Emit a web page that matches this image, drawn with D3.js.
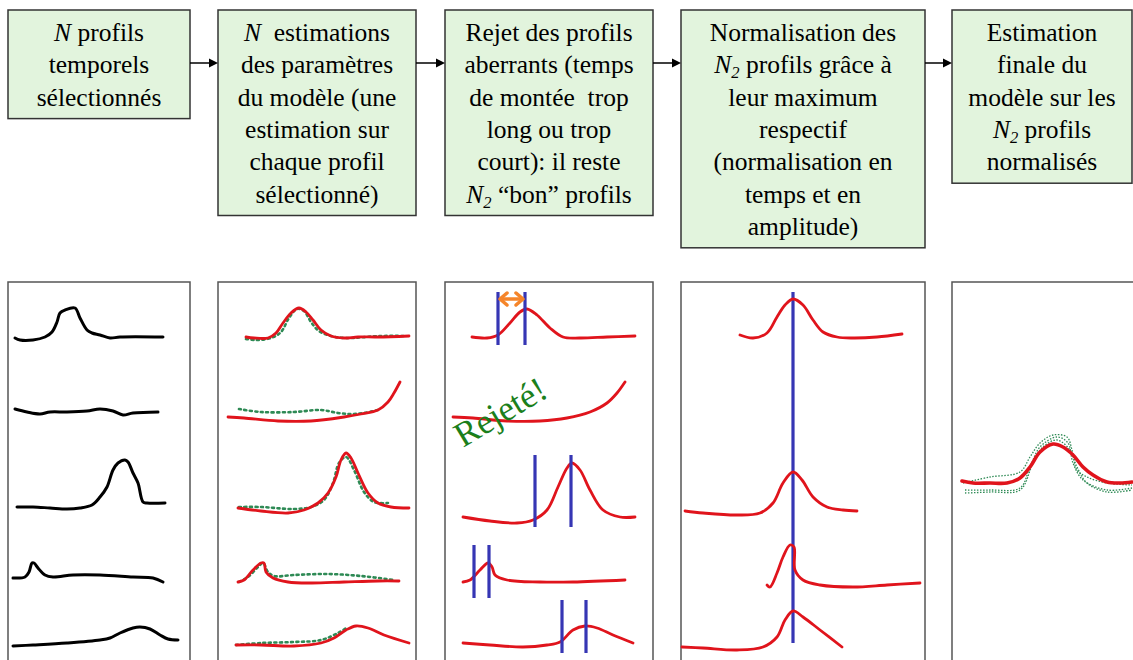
<!DOCTYPE html>
<html>
<head>
<meta charset="utf-8">
<script src="https://cdn.jsdelivr.net/npm/d3@7"></script>
</head>
<body style="margin:0;background:#fff">
<div class="canvas"></div>
<script>
// ---- data -------------------------------------------------------------
// box texts, {N} = italic N, {N2} = italic N with subscript 2
const stages = [
    ["{N} profils", "temporels", "sélectionnés"],
    ["{N}\u00a0 estimations", "des paramètres", "du modèle (une", "estimation sur", "chaque profil", "sélectionné)"],
    ["Rejet des profils", "aberrants (temps", "de montée\u00a0 trop", "long ou trop", "court): il reste", "{N2} “bon” profils"],
    ["Normalisation des", "{N2} profils grâce à", "leur maximum", "respectif", "(normalisation en", "temps et en", "amplitude)"],
    ["Estimation", "finale du", "modèle sur les", "{N2} profils", "normalisés"]
];

// profiles as [time, amplitude], one array per row
const rawProfiles = [
    [[7,0],[12,-2],[25,-2],[37,1],[44,6],[49,16],[52,25],[57,28],[67,30],[72,20],[79,8],[84,5],[92,3],[102,0],[112,1],[155,1]],
    [[7,7],[19,4],[32,2],[42,4],[59,4],[79,5],[92,7],[105,5],[115,1],[125,3],[150,4]],
    [[9,3],[25,3],[42,2],[59,1],[72,2],[84,5],[92,13],[99,23],[105,40],[110,47],[117,50],[120,48],[125,37],[130,27],[135,8],[139,7],[157,7]],
    [[5,3],[17,4],[21,9],[24,18],[26,18],[30,13],[37,6],[45,4],[65,6],[92,6],[125,4],[145,3],[155,-1]],
    [[5,0],[25,1],[59,3],[92,6],[102,8],[112,13],[125,18],[132,19],[142,17],[152,11],[160,7],[170,6]]
];

const fittedProfiles = [
    [[28,1],[36,0],[50,0],[58,5],[65,15],[73,25],[81,30],[88,26],[95,18],[103,8],[113,2],[126,0],[140,1],[160,1],[191,2]],
    [[10,-1],[26,-2],[60,-5],[93,-5],[126,-1],[143,2],[160,6],[170,14],[176,23],[182,34]],
    [[20,2],[43,-1],[70,-3],[86,0],[100,7],[110,17],[118,33],[123,50],[128,57],[133,52],[140,37],[150,17],[160,7],[173,3],[191,2]],
    [[20,-1],[26,1],[35,11],[43,18],[46,18],[48,9],[55,3],[70,-1],[93,-2],[126,-1],[160,0],[181,0]],
    [[18,1],[43,1],[76,0],[103,3],[116,8],[128,16],[138,20],[150,18],[166,11],[191,3]]
];

const measuredProfiles = [
    [[28,-1],[38,-2],[53,0],[63,6],[71,20],[79,29],[86,27],[93,16],[101,7],[113,2],[128,0],[163,2],[188,2]],
    [[21,7],[43,4],[76,4],[103,6],[120,3],[133,2],[146,3],[160,6]],
    [[21,3],[43,3],[76,1],[93,3],[106,10],[115,27],[121,47],[128,53],[136,40],[146,18],[156,8],[170,7]],
    [[21,-1],[30,4],[40,14],[45,18],[50,9],[56,5],[76,6],[110,7],[143,5],[176,1]],
    [[18,1],[43,3],[76,4],[103,6],[120,13],[130,19]]
];

const screenedProfiles = [
    [[27,1],[42,0],[53,3],[65,15],[75,26],[82,29],[92,23],[105,10],[118,1],[135,0],[162,1],[190,2]],
    [[8,-1],[28,-2],[62,-5],[95,-5],[122,-2],[145,4],[162,13],[172,23],[180,34]],
    [[18,-7],[45,-11],[72,-13],[88,-10],[102,0],[113,23],[122,42],[127,47],[135,40],[145,20],[158,0],[175,-7],[190,-7]],
    [[18,-1],[25,1],[35,11],[43,18],[47,14],[50,6],[62,1],[95,-1],[128,-1],[180,1]],
    [[18,3],[45,1],[78,-1],[102,1],[115,4],[128,16],[140,20],[152,18],[168,11],[188,3]]
];
// start of rise / time of maximum, null = rejected profile
const riseTimes = [[53,80], null, [90,126], [29,44], [117,141]];
const rejectedRow = 1;

const normalisedProfiles = [
    [[59,3],[72,0],[86,5],[96,21],[104,33],[112,39],[122,33],[132,18],[142,6],[156,1],[172,0],[196,1],[221,4]],
    null,
    [[4,-1],[22,-3],[56,-5],[79,-3],[92,7],[102,27],[112,38],[121,30],[132,13],[146,3],[162,0],[176,-1]],
    [[86,-4],[89,-6],[96,8],[102,24],[109,36],[113,34],[114,11],[122,1],[139,-4],[172,-6],[206,-4],[239,-2]],
    [[1,-1],[22,-2],[56,-4],[82,-1],[96,9],[104,26],[112,35],[122,29],[139,16],[161,-1]]
];
const commonMax = 112;

const finalModel = [[10,2],[21,0],[38,0],[55,0],[68,5],[78,16],[88,31],[101,39],[111,36],[121,28],[131,16],[141,8],[155,1],[168,0],[180,1]];
const finalData = [
    [[11,0],[38,6],[68,11],[78,26],[88,40],[101,48],[115,46],[120,33],[125,13],[135,6],[155,0],[180,-2]],
    [[13,-7],[38,-7],[68,-5],[78,16],[88,36],[105,46],[116,40],[121,20],[131,3],[155,-7],[180,-5]],
    [[13,-10],[38,-9],[68,-7],[81,20],[91,36],[105,43],[118,33],[125,16],[135,0],[155,-9],[180,-7]]
];

// ---- layout -----------------------------------------------------------
const colX = [[8, 190], [218, 416], [445, 653], [681, 925], [952, 1132]];
const boxTop = 10, lineGap = 32.3, fontSize = 25.5, arrowY = 63;
const FONT = 'Liberation Serif';
const panelTop = 282;
const rowBase = [338, 416, 510, 581, 646];
const finalBase = 483;
const riseSpan = [[46, -7], null, [55, -17], [36, -17], [46, -7]];

const RED = '#e0141c', GREEN = '#2e8a55', BLUE = '#3636b4';

const svg = d3.select('.canvas').append('svg')
    .attr('width', 1133)
    .attr('height', 660);

// layers: shapes under, text on top (text is written first)
const back = svg.append('g');
const front = svg.append('g');

// rich text: italic N and subscript 2
const addRich = (t, str) => {
    let shift = 0;
    str.split(/(\{N2?\})/).filter(s => s.length).forEach(part => {
        if (part === '{N}') {
            t.append('tspan').attr('font-style', 'italic').text('N');
        } else if (part === '{N2}') {
            t.append('tspan').attr('font-style', 'italic').text('N');
            t.append('tspan').attr('font-style', 'italic')
                .attr('font-size', fontSize * 0.65).attr('dy', 5).text('2');
            shift = -5;
        } else {
            t.append('tspan').attr('dy', shift || null).text(part);
            shift = 0;
        }
    });
};

// ---- box texts --------------------------------------------------------
stages.forEach((lines, i) => {
    const [x0, x1] = colX[i];
    lines.forEach((ln, j) => {
        const t = front.append('text')
            .attr('x', (x0 + x1) / 2)
            .attr('y', boxTop + 31 + j * lineGap)
            .attr('font-size', fontSize)
            .attr('font-family', FONT)
            .attr('text-anchor', 'middle');
        addRich(t, ln);
    });
});

const xs = i => d3.scaleLinear().domain([0, 100]).range([colX[i][0], colX[i][0] + 100]);
const ys = base => d3.scaleLinear().domain([0, 50]).range([base, base - 50]);
const x3 = xs(2);

front.append('text')
    .attr('transform', `translate(${x3(18)},${ys(rowBase[rejectedRow])(-32)}) rotate(-31)`)
    .attr('font-size', 35)
    .attr('font-family', FONT)
    .attr('fill', '#1b7f1b')
    .text('Rejeté!');

// ---- boxes ------------------------------------------------------------
stages.forEach((lines, i) => {
    const [x0, x1] = colX[i];
    back.append('rect')
        .attr('x', x0).attr('y', boxTop)
        .attr('width', x1 - x0).attr('height', 44 + lineGap * (lines.length - 1))
        .attr('fill', '#e2f4dd')
        .attr('stroke', '#333')
        .attr('stroke-width', 1.5);
});

// arrows between boxes
d3.range(stages.length - 1).forEach(i => {
    const xa = colX[i][1], xb = colX[i + 1][0];
    back.append('line')
        .attr('x1', xa).attr('x2', xb - 8)
        .attr('y1', arrowY).attr('y2', arrowY)
        .attr('stroke', '#000').attr('stroke-width', 1.5);
    back.append('path')
        .attr('d', `M${xb - 9},${arrowY - 4.5}L${xb},${arrowY}L${xb - 9},${arrowY + 4.5}Z`)
        .attr('fill', '#000');
});

// ---- bottom panels ----------------------------------------------------
colX.forEach(([x0, x1]) => {
    back.append('rect')
        .attr('x', x0).attr('y', panelTop)
        .attr('width', x1 - x0 + (x1 > 1100 ? 40 : 0)).attr('height', 420)
        .attr('fill', 'none')
        .attr('stroke', '#555')
        .attr('stroke-width', 1.5);
});

const lineGen = (x, y) => d3.line()
    .x(d => x(d[0])).y(d => y(d[1]))
    .curve(d3.curveCatmullRom.alpha(0.5));

const drawRows = (panel, rows, color, width, dash) => {
    const x = xs(panel);
    rows.forEach((pts, r) => {
        if (!pts) return;
        back.append('path')
            .attr('d', lineGen(x, ys(rowBase[r]))(pts))
            .attr('fill', 'none')
            .attr('stroke', color)
            .attr('stroke-width', width)
            .attr('stroke-linecap', 'round')
            .attr('stroke-dasharray', dash || null);
    });
};

// panel 1: raw profiles
drawRows(0, rawProfiles, '#000', 3);
// panel 2: measured (dotted) + fitted model
drawRows(1, measuredProfiles, GREEN, 2.6, '2,3.5');
drawRows(1, fittedProfiles, RED, 2.8);

// panel 3: rise time markers
drawRows(2, screenedProfiles, RED, 2.8);
riseTimes.forEach((rt, r) => {
    if (!rt) return;
    const y = ys(rowBase[r]);
    rt.forEach(t => {
        back.append('line')
            .attr('x1', x3(t)).attr('x2', x3(t))
            .attr('y1', y(riseSpan[r][0])).attr('y2', y(riseSpan[r][1]))
            .attr('stroke', BLUE).attr('stroke-width', 3.2);
    });
});
// orange double arrow on first profile
{
    const y = ys(rowBase[0])(39);
    const a = x3(riseTimes[0][0]) + 2, b = x3(riseTimes[0][1]) - 2;
    const ORANGE = '#f5852a';
    back.append('line').attr('x1', a).attr('x2', b).attr('y1', y).attr('y2', y)
        .attr('stroke', ORANGE).attr('stroke-width', 3.5);
    back.append('path')
        .attr('d', `M${a + 7},${y - 6}L${a},${y}L${a + 7},${y + 6}M${b - 7},${y - 6}L${b},${y}L${b - 7},${y + 6}`)
        .attr('fill', 'none').attr('stroke', ORANGE).attr('stroke-width', 3.5)
        .attr('stroke-linejoin', 'round').attr('stroke-linecap', 'round');
}

// panel 4: normalised profiles aligned on their maximum
const x4 = xs(3);
back.append('line')
    .attr('x1', x4(commonMax)).attr('x2', x4(commonMax))
    .attr('y1', ys(rowBase[0])(46)).attr('y2', ys(rowBase[4])(3))
    .attr('stroke', BLUE).attr('stroke-width', 3.2);
drawRows(3, normalisedProfiles, RED, 2.8);

// panel 5: final estimate on normalised profiles
const x5 = xs(4), y5 = ys(finalBase);
finalData.forEach(pts => {
    back.append('path')
        .attr('d', lineGen(x5, y5)(pts))
        .attr('fill', 'none')
        .attr('stroke', GREEN)
        .attr('stroke-width', 1.3)
        .attr('stroke-dasharray', '1.5,1.5');
});
back.append('path')
    .attr('d', lineGen(x5, y5)(finalModel))
    .attr('fill', 'none')
    .attr('stroke', RED)
    .attr('stroke-width', 3.6)
    .attr('stroke-linecap', 'round');
</script>
</body>
</html>
